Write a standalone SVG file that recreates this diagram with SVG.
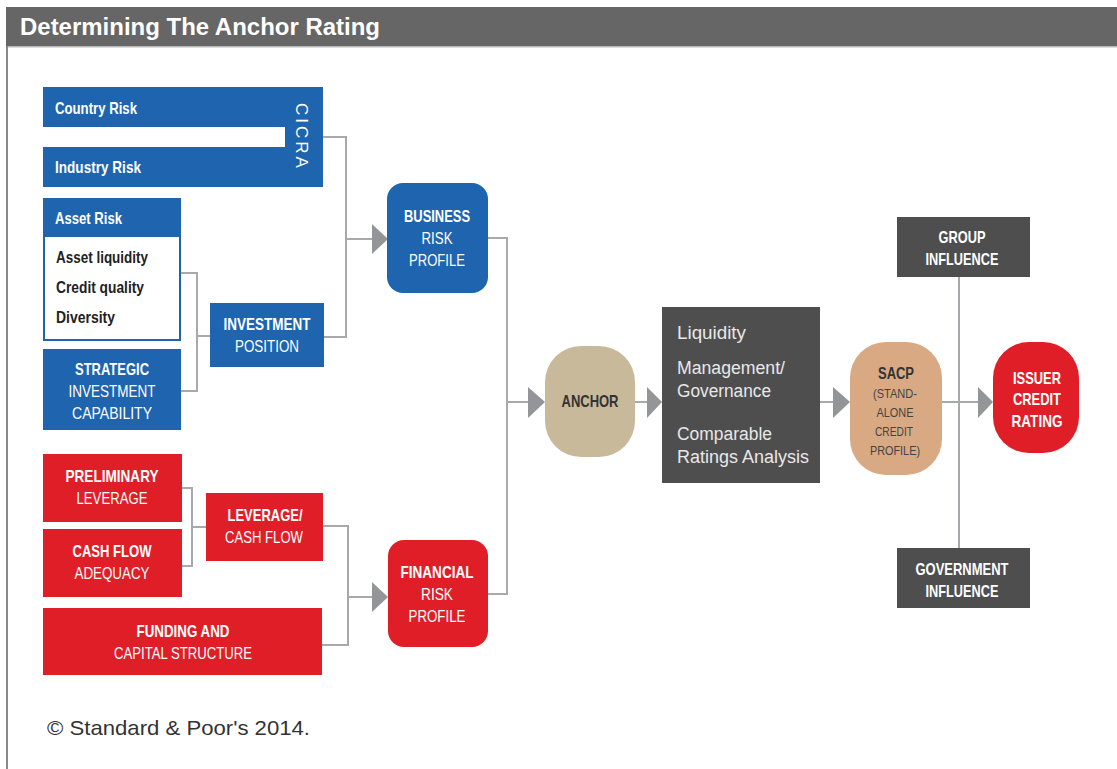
<svg xmlns="http://www.w3.org/2000/svg" width="1117" height="769" viewBox="0 0 1117 769">
<style>
.blue{fill:#1e64ae}
.red{fill:#e01e27}
.dark{fill:#4e4e4e}
.lbl{font-family:"Liberation Sans",Arial,sans-serif;font-weight:bold;font-size:17px;fill:#fff;text-anchor:middle}
.lbl2{font-family:"Liberation Sans",Arial,sans-serif;font-weight:normal;font-size:17px;fill:#fff;text-anchor:middle}
.left{text-anchor:start}
.conn{fill:none;stroke:#a7a9ac;stroke-width:2}
.arr{fill:#939598}
</style>
<rect x="0" y="0" width="1117" height="769" fill="#fff"/>
<rect x="6" y="7" width="1111" height="39" fill="#666"/>
<rect x="6" y="46" width="1111" height="1.5" fill="#bbb"/>
<rect x="6" y="46" width="2" height="723" fill="#888"/>
<text x="20" y="35" font-family="Liberation Sans,Arial,sans-serif" font-size="23" font-weight="bold" fill="#fff" textLength="360" lengthAdjust="spacingAndGlyphs">Determining The Anchor Rating</text>

<g id="connectors">
  <polyline class="conn" points="323,137 346,137 346,337 324,337"/>
  <line class="conn" x1="346" y1="239" x2="374" y2="239"/>
  <polygon class="arr" points="372,224 388,239 372,254"/>
  <polyline class="conn" points="181,273 197,273 197,391 181,391"/>
  <line class="conn" x1="197" y1="336" x2="210" y2="336"/>
  <polyline class="conn" points="182,488 192,488 192,566 182,566"/>
  <line class="conn" x1="192" y1="527" x2="206" y2="527"/>
  <polyline class="conn" points="323,526 348,526 348,645 322,645"/>
  <line class="conn" x1="348" y1="597" x2="374" y2="597"/>
  <polygon class="arr" points="372,582 388,597 372,612"/>
  <polyline class="conn" points="488,238 507,238 507,594 488,594"/>
  <line class="conn" x1="507" y1="402" x2="530" y2="402"/>
  <polygon class="arr" points="528,387 545,402 528,418"/>
  <line class="conn" x1="635" y1="402" x2="648" y2="402"/>
  <polygon class="arr" points="647,387 662,402 647,418"/>
  <line class="conn" x1="820" y1="402" x2="834" y2="402"/>
  <polygon class="arr" points="833,387 850,402 833,418"/>
  <line class="conn" x1="942" y1="402" x2="980" y2="402"/>
  <polygon class="arr" points="978,387 993,402 978,418"/>
  <line class="conn" x1="959" y1="277" x2="959" y2="548"/>
</g>

<g id="cicra">
  <path class="blue" d="M43,87 H323 V187 H43 V147 H285 V127 H43 Z"/>
  <text class="lbl left" x="55" y="114" textLength="82" lengthAdjust="spacingAndGlyphs">Country Risk</text>
  <text class="lbl left" x="55" y="173" textLength="86" lengthAdjust="spacingAndGlyphs">Industry Risk</text>
  <text x="0" y="0" transform="translate(296,137) rotate(90)" font-family="Liberation Sans,Arial,sans-serif" font-size="17" fill="#fff" text-anchor="middle" letter-spacing="3">CICRA</text>
</g>

<g id="asset-risk">
  <rect x="44" y="199" width="136" height="141" fill="#fff" stroke="#1e64ae" stroke-width="2"/>
  <rect class="blue" x="43" y="198" width="138" height="39"/>
  <text class="lbl left" x="55" y="224" textLength="67" lengthAdjust="spacingAndGlyphs">Asset Risk</text>
  <text class="lbl left" x="56" y="263" style="fill:#222" textLength="92" lengthAdjust="spacingAndGlyphs">Asset liquidity</text>
  <text class="lbl left" x="56" y="293" style="fill:#222" textLength="88" lengthAdjust="spacingAndGlyphs">Credit quality</text>
  <text class="lbl left" x="56" y="323" style="fill:#222" textLength="59" lengthAdjust="spacingAndGlyphs">Diversity</text>
</g>

<g id="strategic">
  <rect class="blue" x="43" y="349" width="138" height="81"/>
  <text class="lbl" x="112" y="375" textLength="74" lengthAdjust="spacingAndGlyphs">STRATEGIC</text>
  <text class="lbl2" x="112" y="397" textLength="87" lengthAdjust="spacingAndGlyphs">INVESTMENT</text>
  <text class="lbl2" x="112" y="419" textLength="80" lengthAdjust="spacingAndGlyphs">CAPABILITY</text>
</g>

<g id="investment-position">
  <rect class="blue" x="210" y="303" width="114" height="64"/>
  <text class="lbl" x="267" y="330" textLength="87" lengthAdjust="spacingAndGlyphs">INVESTMENT</text>
  <text class="lbl2" x="267" y="352" textLength="64" lengthAdjust="spacingAndGlyphs">POSITION</text>
</g>

<g id="business-risk">
  <rect class="blue" x="387" y="183" width="101" height="110" rx="16"/>
  <text class="lbl" x="437" y="222" textLength="66" lengthAdjust="spacingAndGlyphs">BUSINESS</text>
  <text class="lbl2" x="437" y="244" textLength="31" lengthAdjust="spacingAndGlyphs">RISK</text>
  <text class="lbl2" x="437" y="266" textLength="56" lengthAdjust="spacingAndGlyphs">PROFILE</text>
</g>

<g id="preliminary-leverage">
  <rect class="red" x="43" y="454" width="139" height="68"/>
  <text class="lbl" x="112" y="482" textLength="93" lengthAdjust="spacingAndGlyphs">PRELIMINARY</text>
  <text class="lbl2" x="112" y="504" textLength="71" lengthAdjust="spacingAndGlyphs">LEVERAGE</text>
</g>

<g id="cash-flow-adequacy">
  <rect class="red" x="43" y="529" width="139" height="68"/>
  <text class="lbl" x="112" y="557" textLength="79" lengthAdjust="spacingAndGlyphs">CASH FLOW</text>
  <text class="lbl2" x="112" y="579" textLength="75" lengthAdjust="spacingAndGlyphs">ADEQUACY</text>
</g>

<g id="leverage-cash-flow">
  <rect class="red" x="206" y="493" width="117" height="68"/>
  <text class="lbl" x="265" y="521" textLength="75" lengthAdjust="spacingAndGlyphs">LEVERAGE/</text>
  <text class="lbl2" x="264" y="543" textLength="78" lengthAdjust="spacingAndGlyphs">CASH FLOW</text>
</g>

<g id="funding">
  <rect class="red" x="43" y="608" width="279" height="67"/>
  <text class="lbl" x="183" y="637" textLength="93" lengthAdjust="spacingAndGlyphs">FUNDING AND</text>
  <text class="lbl2" x="183" y="659" textLength="138" lengthAdjust="spacingAndGlyphs">CAPITAL STRUCTURE</text>
</g>

<g id="financial-risk">
  <rect class="red" x="388" y="540" width="100" height="107" rx="16"/>
  <text class="lbl" x="437" y="578" textLength="73" lengthAdjust="spacingAndGlyphs">FINANCIAL</text>
  <text class="lbl2" x="437" y="600" textLength="32" lengthAdjust="spacingAndGlyphs">RISK</text>
  <text class="lbl2" x="437" y="622" textLength="57" lengthAdjust="spacingAndGlyphs">PROFILE</text>
</g>

<g id="anchor">
  <rect x="545" y="346" width="90" height="111" rx="36" fill="#c8b99b"/>
  <text class="lbl" x="590" y="407" style="fill:#333" textLength="57" lengthAdjust="spacingAndGlyphs">ANCHOR</text>
</g>

<g id="modifiers">
  <rect class="dark" x="662" y="307" width="158" height="176"/>
  <g font-family="Liberation Sans,Arial,sans-serif" font-size="18" fill="#e8e8e8">
    <text x="677" y="339" textLength="69" lengthAdjust="spacingAndGlyphs">Liquidity</text>
    <text x="677" y="374" textLength="108" lengthAdjust="spacingAndGlyphs">Management/</text>
    <text x="677" y="397" textLength="94" lengthAdjust="spacingAndGlyphs">Governance</text>
    <text x="677" y="440" textLength="95" lengthAdjust="spacingAndGlyphs">Comparable</text>
    <text x="677" y="463" textLength="132" lengthAdjust="spacingAndGlyphs">Ratings Analysis</text>
  </g>
</g>

<g id="sacp">
  <rect x="850" y="342" width="92" height="133" rx="36" fill="#d8a983"/>
  <text class="lbl" x="896" y="379" style="fill:#333;font-size:16px" textLength="36" lengthAdjust="spacingAndGlyphs">SACP</text>
  <text class="lbl2" x="895" y="398" style="fill:#444;font-size:13px" textLength="44" lengthAdjust="spacingAndGlyphs">(STAND-</text>
  <text class="lbl2" x="895" y="417" style="fill:#444;font-size:13px" textLength="37" lengthAdjust="spacingAndGlyphs">ALONE</text>
  <text class="lbl2" x="894" y="436" style="fill:#444;font-size:13px" textLength="38" lengthAdjust="spacingAndGlyphs">CREDIT</text>
  <text class="lbl2" x="895" y="455" style="fill:#444;font-size:13px" textLength="50" lengthAdjust="spacingAndGlyphs">PROFILE)</text>
</g>

<g id="issuer-credit-rating">
  <rect class="red" x="993" y="342" width="86" height="111" rx="36"/>
  <text class="lbl" x="1037" y="384" textLength="48" lengthAdjust="spacingAndGlyphs">ISSUER</text>
  <text class="lbl" x="1037" y="405" textLength="48" lengthAdjust="spacingAndGlyphs">CREDIT</text>
  <text class="lbl" x="1037" y="427" textLength="51" lengthAdjust="spacingAndGlyphs">RATING</text>
</g>

<g id="group-influence">
  <rect class="dark" x="897" y="217" width="133" height="60"/>
  <text class="lbl" x="962" y="243" textLength="47" lengthAdjust="spacingAndGlyphs">GROUP</text>
  <text class="lbl" x="962" y="265" textLength="73" lengthAdjust="spacingAndGlyphs">INFLUENCE</text>
</g>

<g id="government-influence">
  <rect class="dark" x="897" y="548" width="133" height="60"/>
  <text class="lbl" x="962" y="575" textLength="93" lengthAdjust="spacingAndGlyphs">GOVERNMENT</text>
  <text class="lbl" x="962" y="597" textLength="73" lengthAdjust="spacingAndGlyphs">INFLUENCE</text>
</g>

<text x="47" y="735" font-family="Liberation Sans,Arial,sans-serif" font-size="21" fill="#333" textLength="263" lengthAdjust="spacingAndGlyphs">© Standard &amp; Poor's 2014.</text>
</svg>
